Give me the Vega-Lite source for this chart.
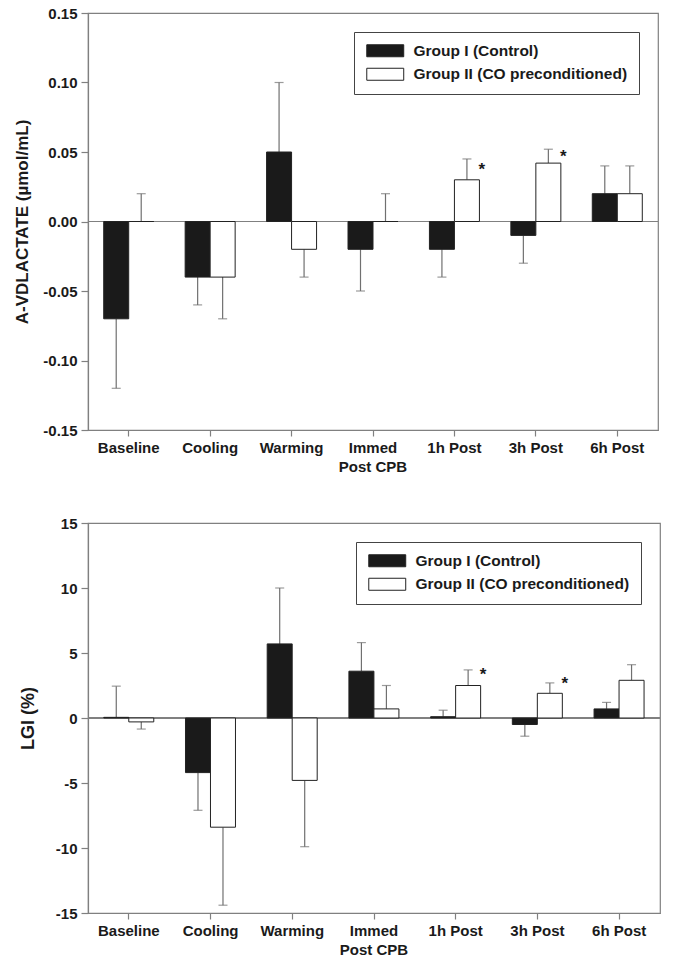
{
  "$schema": "https://vega.github.io/schema/vega-lite/v6.json",
  "background": "white",
  "padding": {"left": 13, "top": 5, "right": 8, "bottom": 5},
  "spacing": 40,
  "datasets": {
    "top": [
      {"cat": "Baseline", "group": "Group I (Control)", "value": -0.07, "err": -0.12},
      {"cat": "Baseline", "group": "Group II (CO preconditioned)", "value": 0.0, "err": 0.02},
      {"cat": "Cooling", "group": "Group I (Control)", "value": -0.04, "err": -0.06},
      {"cat": "Cooling", "group": "Group II (CO preconditioned)", "value": -0.04, "err": -0.07},
      {"cat": "Warming", "group": "Group I (Control)", "value": 0.05, "err": 0.10},
      {"cat": "Warming", "group": "Group II (CO preconditioned)", "value": -0.02, "err": -0.04},
      {"cat": "Immed Post CPB", "group": "Group I (Control)", "value": -0.02, "err": -0.05},
      {"cat": "Immed Post CPB", "group": "Group II (CO preconditioned)", "value": 0.0, "err": 0.02},
      {"cat": "1h Post", "group": "Group I (Control)", "value": -0.02, "err": -0.04},
      {"cat": "1h Post", "group": "Group II (CO preconditioned)", "value": 0.03, "err": 0.045, "star": 0.0396},
      {"cat": "3h Post", "group": "Group I (Control)", "value": -0.01, "err": -0.03},
      {"cat": "3h Post", "group": "Group II (CO preconditioned)", "value": 0.042, "err": 0.052, "star": 0.049},
      {"cat": "6h Post", "group": "Group I (Control)", "value": 0.02, "err": 0.04},
      {"cat": "6h Post", "group": "Group II (CO preconditioned)", "value": 0.02, "err": 0.04}
    ],
    "bottom": [
      {"cat": "Baseline", "group": "Group I (Control)", "value": 0.05, "err": 2.45},
      {"cat": "Baseline", "group": "Group II (CO preconditioned)", "value": -0.3, "err": -0.85},
      {"cat": "Cooling", "group": "Group I (Control)", "value": -4.2, "err": -7.1},
      {"cat": "Cooling", "group": "Group II (CO preconditioned)", "value": -8.4, "err": -14.4},
      {"cat": "Warming", "group": "Group I (Control)", "value": 5.7, "err": 10.0},
      {"cat": "Warming", "group": "Group II (CO preconditioned)", "value": -4.8, "err": -9.9},
      {"cat": "Immed Post CPB", "group": "Group I (Control)", "value": 3.6, "err": 5.8},
      {"cat": "Immed Post CPB", "group": "Group II (CO preconditioned)", "value": 0.7, "err": 2.5},
      {"cat": "1h Post", "group": "Group I (Control)", "value": 0.1, "err": 0.6},
      {"cat": "1h Post", "group": "Group II (CO preconditioned)", "value": 2.5, "err": 3.7, "star": 3.6},
      {"cat": "3h Post", "group": "Group I (Control)", "value": -0.5, "err": -1.4},
      {"cat": "3h Post", "group": "Group II (CO preconditioned)", "value": 1.9, "err": 2.7, "star": 2.95},
      {"cat": "6h Post", "group": "Group I (Control)", "value": 0.7, "err": 1.2},
      {"cat": "6h Post", "group": "Group II (CO preconditioned)", "value": 2.9, "err": 4.1}
    ]
  },
  "config": {
    "font": "Liberation Sans",
    "view": {"stroke": "#808080", "strokeWidth": 1.2},
    "axis": {
      "grid": false,
      "domainColor": "#808080",
      "domainWidth": 1.2,
      "tickColor": "#808080",
      "tickWidth": 1.2,
      "labelColor": "#1a1a1a",
      "labelFont": "Liberation Sans",
      "labelFontWeight": "bold",
      "labelFontSize": 15,
      "titleFont": "Liberation Sans",
      "titleFontWeight": "bold",
      "titleColor": "#1a1a1a"
    },
    "legend": {
      "orient": "top-right",
      "offset": 19,
      "title": null,
      "padding": 11,
      "rowPadding": 5.5,
      "fillColor": "white",
      "strokeColor": "#444444",
      "labelFont": "Liberation Sans",
      "labelFontWeight": "bold",
      "labelFontSize": 15.5,
      "labelColor": "#1a1a1a",
      "labelLimit": 400,
      "labelOffset": 20.5,
      "symbolOffset": 12.5,
      "symbolType": "M-3.08,-1H3.08V1H-3.08Z",
      "symbolSize": 144,
      "symbolStrokeColor": "#222222",
      "symbolStrokeWidth": 1
    }
  },
  "resolve": {
    "scale": {"x": "independent", "y": "independent", "fill": "independent"},
    "legend": {"fill": "independent"}
  },
  "vconcat": [
    {
      "width": 570,
      "height": 417,
      "data": {"name": "top"},
      "encoding": {
        "x": {
          "field": "cat", "type": "nominal", "sort": null, "title": null,
          "scale": {"paddingInner": 0.386, "paddingOuter": 0.193},
          "axis": {"labelAngle": 0, "tickSize": 6, "labelPadding": 4, "labelLineHeight": 19,
                   "labelExpr": "datum.value == 'Immed Post CPB' ? ['Immed', 'Post CPB'] : datum.label"}
        },
        "xOffset": {"field": "group", "type": "nominal", "sort": null, "scale": {"paddingInner": 0, "paddingOuter": 0}}
      },
      "layer": [
        {
          "mark": {"type": "rule", "color": "#808080", "strokeWidth": 1.2},
          "encoding": {"y": {"datum": 0, "type": "quantitative"}, "x": null, "xOffset": null}
        },
        {
          "mark": {"type": "rule", "color": "#707070", "strokeWidth": 1.2},
          "encoding": {
            "y": {"field": "value", "type": "quantitative"},
            "y2": {"field": "err"}
          }
        },
        {
          "mark": {"type": "tick", "color": "#707070", "thickness": 1.2, "size": 9},
          "encoding": {"y": {"field": "err", "type": "quantitative"}}
        },
        {
          "mark": {"type": "bar", "stroke": "#222222", "strokeWidth": 1},
          "encoding": {
            "y": {
              "field": "value", "type": "quantitative",
              "scale": {"domain": [-0.15, 0.15], "nice": false},
              "title": "A-VDLACTATE (µmol/mL)",
              "axis": {"values": [-0.15, -0.1, -0.05, 0, 0.05, 0.1, 0.15], "format": ".2f",
                       "labelExpr": "replace(datum.label, '\u2212', '-')",
                       "tickSize": 7, "labelPadding": 4, "titleFontSize": 17, "titlePadding": 11}
            },
            "fill": {
              "field": "group", "type": "nominal", "sort": null,
              "scale": {"domain": ["Group I (Control)", "Group II (CO preconditioned)"], "range": ["#1a1a1a", "#ffffff"]}
            }
          }
        },
        {
          "transform": [{"filter": "isValid(datum.star)"}],
          "mark": {"type": "text", "text": "*", "fontSize": 17, "fontWeight": "bold", "color": "#1a1a1a", "dx": 15, "dy": 9, "baseline": "alphabetic", "align": "center"},
          "encoding": {"y": {"field": "star", "type": "quantitative"}}
        }
      ]
    },
    {
      "width": 572,
      "height": 390,
      "data": {"name": "bottom"},
      "encoding": {
        "x": {
          "field": "cat", "type": "nominal", "sort": null, "title": null,
          "scale": {"paddingInner": 0.386, "paddingOuter": 0.193},
          "axis": {"labelAngle": 0, "tickSize": 6, "labelPadding": 4, "labelLineHeight": 19,
                   "labelExpr": "datum.value == 'Immed Post CPB' ? ['Immed', 'Post CPB'] : datum.label"}
        },
        "xOffset": {"field": "group", "type": "nominal", "sort": null, "scale": {"paddingInner": 0, "paddingOuter": 0}}
      },
      "layer": [
        {
          "mark": {"type": "rule", "color": "#808080", "strokeWidth": 1.2},
          "encoding": {"y": {"datum": 0, "type": "quantitative"}, "x": null, "xOffset": null}
        },
        {
          "mark": {"type": "rule", "color": "#707070", "strokeWidth": 1.2},
          "encoding": {
            "y": {"field": "value", "type": "quantitative"},
            "y2": {"field": "err"}
          }
        },
        {
          "mark": {"type": "tick", "color": "#707070", "thickness": 1.2, "size": 9},
          "encoding": {"y": {"field": "err", "type": "quantitative"}}
        },
        {
          "mark": {"type": "bar", "stroke": "#222222", "strokeWidth": 1},
          "encoding": {
            "y": {
              "field": "value", "type": "quantitative",
              "scale": {"domain": [-15, 15], "nice": false},
              "title": "LGI (%)",
              "axis": {"values": [-15, -10, -5, 0, 5, 10, 15], "format": "d",
                       "labelExpr": "replace(datum.label, '\u2212', '-')",
                       "tickSize": 7, "labelPadding": 4, "titleFontSize": 18, "titlePadding": 18}
            },
            "fill": {
              "field": "group", "type": "nominal", "sort": null,
              "scale": {"domain": ["Group I (Control)", "Group II (CO preconditioned)"], "range": ["#1a1a1a", "#ffffff"]}
            }
          }
        },
        {
          "transform": [{"filter": "isValid(datum.star)"}],
          "mark": {"type": "text", "text": "*", "fontSize": 17, "fontWeight": "bold", "color": "#1a1a1a", "dx": 15, "dy": 9, "baseline": "alphabetic", "align": "center"},
          "encoding": {"y": {"field": "star", "type": "quantitative"}}
        }
      ]
    }
  ]
}
